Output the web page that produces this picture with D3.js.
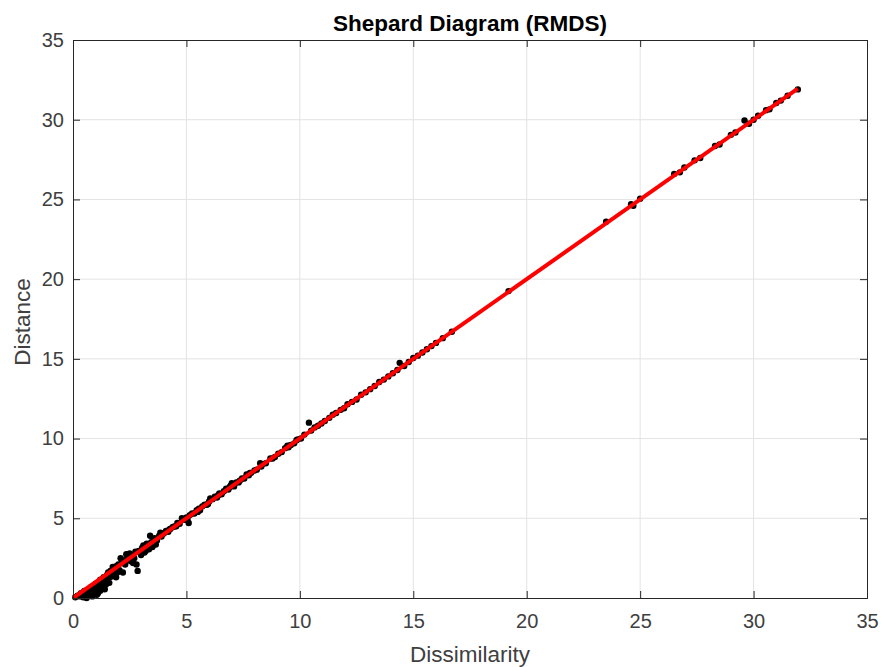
<!DOCTYPE html>
<html>
<head>
<meta charset="utf-8">
<script src="https://cdn.jsdelivr.net/npm/d3@7"></script>
<style>
body { margin: 0; background: #fff; }
text { font-family: "Liberation Sans", Arial, Helvetica, sans-serif; }
</style>
</head>
<body>
<div id="chart"></div>
<script>
// ---------------------- data ----------------------
var dissimilarity = [0.1,0.2,0.3,0.35,0.4,0.5,0.5,0.6,0.6,0.7,0.7,0.8,0.8,0.85,0.9,0.95,1.0,1.0,1.05,1.1,
  1.15,1.2,1.2,1.3,1.3,1.35,1.4,1.45,1.5,1.55,1.6,1.65,1.7,1.75,1.8,1.85,1.9,1.95,2.0,2.05,
  2.1,2.15,2.2,2.25,2.3,2.4,2.45,2.5,2.55,2.6,2.7,2.75,2.8,2.85,2.9,3.0,3.05,3.1,3.2,3.25,
  3.3,3.4,3.45,3.5,3.55,3.6,3.7,3.8,3.85,3.9,4.0,4.1,4.2,4.3,4.4,4.5,4.6,4.7,4.8,4.9,
  5.0,5.1,5.15,5.25,5.35,5.45,5.55,5.6,5.7,5.8,5.9,6.0,6.05,6.15,6.25,6.35,6.45,6.55,6.65,6.75,
  6.85,6.95,7.0,7.1,7.2,7.35,7.45,7.55,7.65,7.75,7.85,8.0,8.1,8.25,8.35,8.5,8.7,8.9,9.05,9.2,
  9.35,9.45,9.6,9.75,9.9,10.05,10.2,10.4,10.5,10.65,10.8,10.95,11.1,11.3,11.45,11.6,11.8,11.95,12.1,12.3,
  12.5,12.7,12.9,13.1,13.3,13.5,13.7,13.9,14.1,14.3,14.4,14.6,14.8,15.0,15.2,15.4,15.6,15.8,16.0,16.3,
  16.7,19.2,23.5,24.6,24.7,25.0,26.5,26.75,26.95,27.4,27.65,28.3,28.5,29.0,29.2,29.6,29.8,30.0,30.2,30.55,
  30.7,31.0,31.2,31.5,31.95,
  0.45,0.65,0.75,0.9,1.1,1.25,1.4,1.6,1.7,1.9,2.35,2.65,3.15,3.35,3.65,4.25,4.55,5.05,5.5,5.95,
  6.4,6.9,7.3,7.8,8.3,8.8,9.5,9.85];
var distance = [0.05,0.15,0.1,0.3,0.2,0.45,0.1,0.3,0.0,0.55,0.2,0.7,0.35,0.1,0.6,0.3,0.9,0.5,0.2,0.75,
  1.0,0.45,1.15,0.9,0.65,1.3,1.1,0.85,1.45,1.6,1.3,1.7,1.55,1.95,1.7,1.5,2.0,1.6,2.1,1.75,
  2.5,2.2,1.6,2.35,2.1,2.55,2.4,2.8,2.3,2.65,2.5,2.9,2.1,1.7,2.95,2.7,3.15,3.3,2.95,3.4,
  3.2,3.9,3.5,3.2,3.6,3.75,3.6,3.9,4.1,3.85,4.05,4.2,4.15,4.35,4.45,4.5,4.7,4.65,5.0,4.9,
  5.05,4.7,5.2,5.3,5.3,5.5,5.6,5.5,5.75,5.85,5.85,6.05,6.25,6.2,6.35,6.3,6.55,6.5,6.7,6.85,
  6.8,7.05,7.2,7.0,7.25,7.35,7.5,7.5,7.75,7.7,7.85,8.0,8.05,8.45,8.4,8.45,8.75,8.85,9.05,9.15,
  9.4,9.55,9.6,9.7,9.95,10.0,10.25,11.0,10.5,10.7,10.8,10.95,11.1,11.3,11.5,11.6,11.8,11.9,12.15,12.3,
  12.45,12.75,12.9,13.1,13.3,13.55,13.7,13.9,14.1,14.3,14.75,14.55,14.8,15.05,15.2,15.4,15.6,15.8,16.0,16.3,
  16.7,19.25,23.6,24.7,24.6,25.05,26.6,26.7,27.0,27.45,27.6,28.35,28.45,29.05,29.2,29.95,29.75,30.0,30.25,30.6,
  30.65,31.05,31.2,31.5,31.9,
  0.05,0.4,0.15,0.25,0.3,0.85,0.55,0.95,1.35,1.3,2.75,2.2,2.85,3.05,3.35,4.3,4.5,4.95,5.4,5.9,
  6.45,6.95,7.25,7.85,8.25,8.75,9.45,9.9];
// disparities (red line)
var disparityX = [0, 31.95];
var disparityY = [0, 31.95];
var ticks = [0, 5, 10, 15, 20, 25, 30, 35];

// ---------------------- chart setup ----------------------
var W = 893, H = 667;
var pLeft = 73, pTop = 40, pRight = 867, pBottom = 598;
var axisColor = "#262626";
var textColor = "#404040";

var svg = d3.select("#chart")
     .append("svg")
     .attr("width", W)
     .attr("height", H);

var x = d3.scaleLinear().domain([0, 35]).range([pLeft, pRight]);
var y = d3.scaleLinear().domain([0, 35]).range([pBottom, pTop]);

// grid
svg.append("g").selectAll("line")
     .data(ticks.slice(1, -1))
     .enter().append("line")
     .attr("x1", d => x(d)).attr("x2", d => x(d))
     .attr("y1", pTop).attr("y2", pBottom)
     .attr("stroke", "#e3e3e3").attr("stroke-width", 1);
svg.append("g").selectAll("line")
     .data(ticks.slice(1, -1))
     .enter().append("line")
     .attr("x1", pLeft).attr("x2", pRight)
     .attr("y1", d => y(d)).attr("y2", d => y(d))
     .attr("stroke", "#e3e3e3").attr("stroke-width", 1);

// points
var pts = d3.range(dissimilarity.length);
svg.append("g").selectAll("circle")
     .data(pts)
     .enter().append("circle")
     .attr("cx", i => x(dissimilarity[i]))
     .attr("cy", i => y(distance[i]))
     .attr("r", 3.2)
     .attr("fill", "#000");

// red disparity line
svg.append("path")
     .datum(d3.range(disparityX.length))
     .attr("d", d3.line().x(i => x(disparityX[i])).y(i => y(disparityY[i])))
     .attr("stroke", "#ff0000")
     .attr("stroke-width", 4)
     .attr("fill", "none");

// axes (ticks inside, box on)
var tl = 7;
var xAxisB = d3.axisBottom(x).tickValues(ticks).tickSize(-tl).tickPadding(16).tickFormat(d3.format("d"));
var xAxisT = d3.axisTop(x).tickValues(ticks).tickSize(-tl).tickFormat("");
var yAxisL = d3.axisLeft(y).tickValues(ticks).tickSize(-tl).tickPadding(9).tickFormat(d3.format("d"));
var yAxisR = d3.axisRight(y).tickValues(ticks).tickSize(-tl).tickFormat("");

function styleAxis(g) {
  g.select(".domain").attr("stroke", axisColor).attr("stroke-width", 1);
  g.selectAll(".tick line").attr("stroke", axisColor);
  g.selectAll(".tick text").attr("fill", textColor).style("font-size", "20px")
     .style("font-family", "'Liberation Sans', Arial, sans-serif");
}
svg.append("g").attr("transform", "translate(0," + pBottom + ")").call(xAxisB).call(styleAxis);
svg.append("g").attr("transform", "translate(0," + pTop + ")").call(xAxisT).call(styleAxis);
svg.append("g").attr("transform", "translate(" + pLeft + ",0)").call(yAxisL).call(styleAxis);
svg.append("g").attr("transform", "translate(" + pRight + ",0)").call(yAxisR).call(styleAxis);

// labels
svg.append("text")
     .text("Shepard Diagram (RMDS)")
     .attr("x", (pLeft + pRight) / 2)
     .attr("y", 31)
     .attr("text-anchor", "middle")
     .style("font-size", "22.5px")
     .style("font-weight", "bold")
     .attr("fill", "#000");

svg.append("text")
     .text("Dissimilarity")
     .attr("x", (pLeft + pRight) / 2)
     .attr("y", 662)
     .attr("text-anchor", "middle")
     .style("font-size", "22.5px")
     .attr("fill", textColor);

svg.append("text")
     .text("Distance")
     .attr("transform", "translate(30,322) rotate(-90)")
     .attr("text-anchor", "middle")
     .style("font-size", "22.5px")
     .attr("fill", textColor);
</script>
</body>
</html>
